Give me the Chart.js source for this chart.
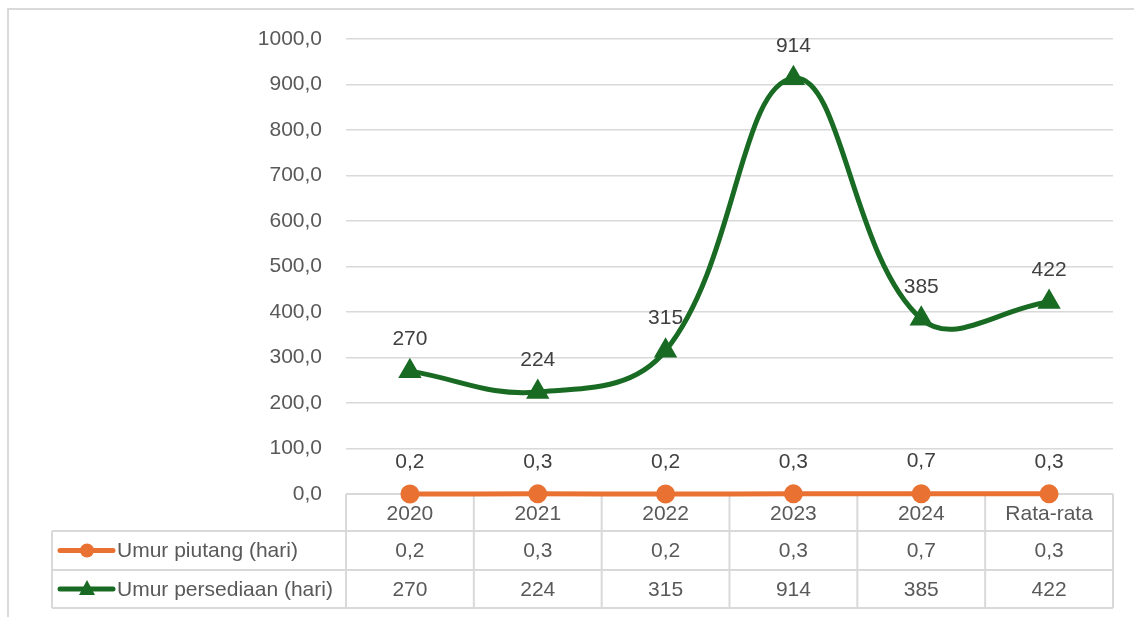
<!DOCTYPE html>
<html>
<head>
<meta charset="utf-8">
<script src="https://cdn.jsdelivr.net/npm/chart.js@4/dist/chart.umd.min.js"></script>
<style>
  body { margin: 0; background: #fff; }
  #wrap { width: 1134px; height: 617px; }
</style>
</head>
<body>
<div id="wrap"><canvas id="grafik" width="1134" height="617"></canvas></div>
<script>
// kategori dan data
const tahun = ["2020", "2021", "2022", "2023", "2024", "Rata-rata"];
const umurPiutang = [0.2, 0.3, 0.2, 0.3, 0.7, 0.3];
const umurPersediaan = [270, 224, 315, 914, 385, 422];
const labelPiutang = ["0,2", "0,3", "0,2", "0,3", "0,7", "0,3"];
const labelPersediaan = ["270", "224", "315", "914", "385", "422"];

const oranye = "#E97132";
const hijau = "#196B24";
const garis = "#D9D9D9";
const teks = "#595959";
const huruf = "'Liberation Sans', Arial, sans-serif";

// label data di atas titik
const labelData = {
  id: "labelData",
  afterDatasetsDraw(chart) {
    const ctx = chart.ctx;
    ctx.save();
    ctx.font = "21px " + huruf;
    ctx.fillStyle = "#404040";
    ctx.textAlign = "center";
    ctx.textBaseline = "middle";
    const isi = [labelPiutang, labelPersediaan];
    chart.data.datasets.forEach((ds, i) => {
      chart.getDatasetMeta(i).data.forEach((pt, j) => {
        ctx.fillText(isi[i][j], pt.x, pt.y - 32);
      });
    });
    ctx.restore();
  }
};

// tabel data di bawah grafik + bingkai
const tabelData = {
  id: "tabelData",
  beforeDatasetsDraw(chart) {
    const ctx = chart.ctx;
    const x = chart.scales.x;
    const area = chart.chartArea;
    const kiri = 52, y0 = area.bottom, y1 = 531, y2 = 570, y3 = 608;
    const lebar = (area.right - area.left) / tahun.length;
    ctx.save();
    // bingkai luar
    ctx.strokeStyle = garis;
    ctx.lineWidth = 2;
    ctx.beginPath();
    ctx.moveTo(8, 617); ctx.lineTo(8, 9); ctx.lineTo(1134, 9);
    ctx.stroke();

    ctx.beginPath();
    // garis horizontal
    ctx.moveTo(area.left, y0); ctx.lineTo(area.right, y0);
    [y1, y2, y3].forEach(y => { ctx.moveTo(kiri, y); ctx.lineTo(area.right, y); });
    // garis vertikal
    ctx.moveTo(kiri, y1); ctx.lineTo(kiri, y3);
    for (let i = 0; i <= tahun.length; i++) {
      const gx = area.left + i * lebar;
      ctx.moveTo(gx, y0); ctx.lineTo(gx, y3);
    }
    ctx.stroke();

    ctx.font = "21px " + huruf;
    ctx.fillStyle = teks;
    ctx.textAlign = "center";
    ctx.textBaseline = "middle";
    tahun.forEach((t, i) => {
      const cx = x.getPixelForValue(i);
      ctx.fillText(t, cx, (y0 + y1) / 2 + 2);
      ctx.fillText(labelPiutang[i], cx, (y1 + y2) / 2 + 1);
      ctx.fillText(labelPersediaan[i], cx, (y2 + y3) / 2 + 1);
    });

    // kunci legenda
    const baris = [
      { y: (y1 + y2) / 2, warna: oranye, nama: chart.data.datasets[0].label, bentuk: "circle" },
      { y: (y2 + y3) / 2, warna: hijau, nama: chart.data.datasets[1].label, bentuk: "triangle" }
    ];
    baris.forEach(b => {
      ctx.strokeStyle = b.warna;
      ctx.fillStyle = b.warna;
      ctx.lineWidth = 5;
      ctx.lineCap = "round";
      ctx.beginPath();
      ctx.moveTo(60, b.y); ctx.lineTo(113, b.y);
      ctx.stroke();
      ctx.beginPath();
      if (b.bentuk === "circle") {
        ctx.arc(87, b.y, 7, 0, Math.PI * 2);
      } else {
        ctx.moveTo(87, b.y - 9); ctx.lineTo(95, b.y + 6); ctx.lineTo(79, b.y + 6); ctx.closePath();
      }
      ctx.fill();
      ctx.fillStyle = teks;
      ctx.textAlign = "left";
      ctx.fillText(b.nama, 117, b.y + 1);
    });
    ctx.restore();
  }
};

new Chart(document.getElementById("grafik"), {
  type: "line",
  data: {
    labels: tahun,
    datasets: [
      {
        label: "Umur piutang (hari)",
        data: umurPiutang,
        borderColor: oranye,
        backgroundColor: oranye,
        borderWidth: 5,
        pointStyle: "circle",
        pointRadius: 7,
        pointHoverRadius: 7,
        tension: 0.4,
        clip: false
      },
      {
        label: "Umur persediaan (hari)",
        data: umurPersediaan,
        borderColor: hijau,
        backgroundColor: hijau,
        borderWidth: 5,
        pointStyle: "triangle",
        pointRadius: 8.5,
        pointHoverRadius: 8.5,
        tension: 0.4,
        clip: false
      }
    ]
  },
  options: {
    responsive: false,
    animation: false,
    layout: { padding: { top: 39, right: 21, bottom: 123, left: 0 } },
    plugins: {
      legend: { display: false },
      tooltip: { enabled: false }
    },
    scales: {
      x: {
        display: false,
        offset: true
      },
      y: {
        min: 0,
        max: 1000,
        afterFit(scale) { scale.width = 346; },
        border: { display: false },
        grid: { color: garis, lineWidth: 1.5, drawTicks: false },
        ticks: {
          stepSize: 100,
          padding: 24,
          color: teks,
          font: { family: huruf, size: 21 },
          callback: v => v.toFixed(1).replace(".", ",")
        }
      }
    }
  },
  plugins: [labelData, tabelData]
});
</script>
</body>
</html>
